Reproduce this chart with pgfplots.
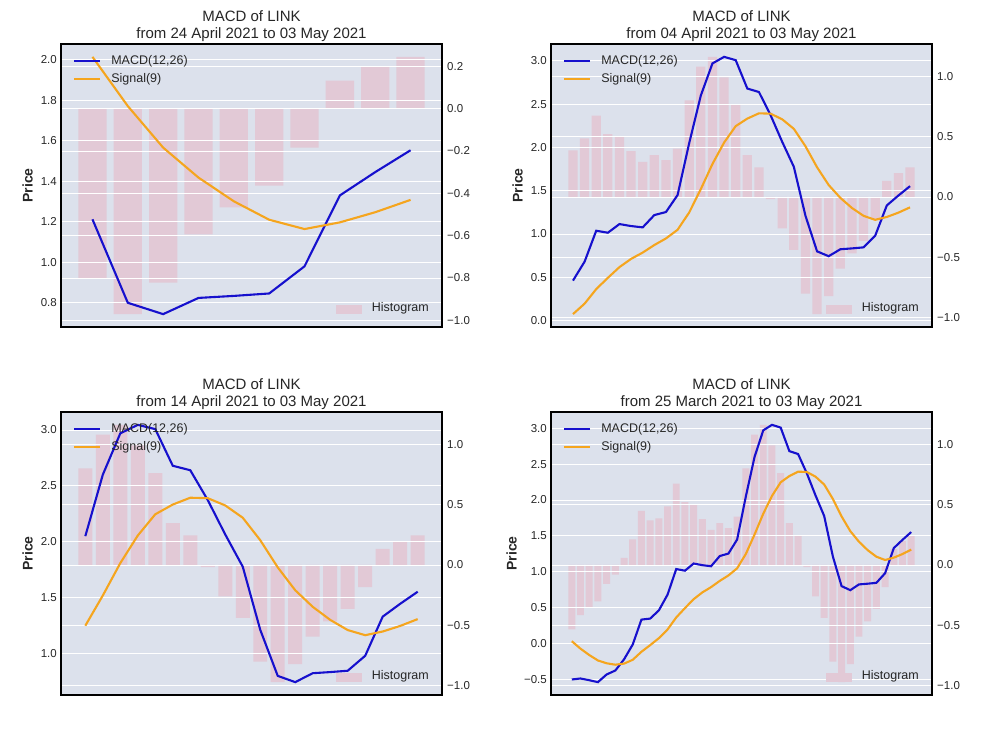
\documentclass[border=0pt]{standalone}
\usepackage{fontspec}
\setmainfont{Liberation Sans}
\usepackage{pgfplots}
\usepackage{pgfplotstable}
\pgfplotsset{compat=1.18}
\definecolor{bgcol}{RGB}{220,225,236}
\definecolor{barcol}{RGB}{226,201,214}
\definecolor{macdcol}{RGB}{22,16,205}
\definecolor{sigcol}{RGB}{245,165,30}
\definecolor{txtcol}{RGB}{38,38,38}

\pgfplotstableread{
i macd sig hist
0 -0.500 0.033 -0.533
1 -0.486 -0.071 -0.415
2 -0.510 -0.159 -0.351
3 -0.537 -0.235 -0.302
4 -0.430 -0.274 -0.156
5 -0.375 -0.294 -0.081
6 -0.220 -0.279 0.059
7 -0.013 -0.226 0.213
8 0.334 -0.114 0.448
9 0.348 -0.022 0.370
10 0.462 0.075 0.387
11 0.681 0.196 0.485
12 1.038 0.364 0.674
13 1.015 0.494 0.521
14 1.115 0.618 0.497
15 1.092 0.713 0.379
16 1.077 0.786 0.291
17 1.219 0.873 0.346
18 1.254 0.949 0.305
19 1.450 1.049 0.401
20 2.050 1.249 0.801
21 2.600 1.519 1.081
22 2.970 1.809 1.161
23 3.046 2.056 0.990
24 3.008 2.246 0.762
25 2.680 2.333 0.347
26 2.640 2.394 0.246
27 2.373 2.390 -0.017
28 2.065 2.325 -0.260
29 1.777 2.215 -0.438
30 1.212 2.014 -0.802
31 0.800 1.771 -0.971
32 0.744 1.566 -0.822
33 0.824 1.418 -0.594
34 0.834 1.301 -0.467
35 0.846 1.210 -0.364
36 0.980 1.164 -0.184
37 1.330 1.197 0.133
38 1.445 1.247 0.198
39 1.553 1.308 0.245
}\data

\pgfplotsset{
  base/.style={scale only axis, width=381pt, height=283pt, xtick=\empty,
    major tick length=0pt, axis line style={line width=1.5pt, black},
    ymajorgrids, major grid style={white, line width=0.9pt},
    tick label style={font=\fontsize{11.5}{13}\selectfont, text=txtcol},
    anchor=south west},
  histax/.style={base, axis background/.style={fill=bgcol},
    yticklabel pos=right, yticklabel style={anchor=west, inner sep=0pt, xshift=5pt},
    axis on top},
  histleg/.style={scale only axis, width=381pt, height=283pt, anchor=south west,
    hide axis, xmin=0, xmax=1, ymin=0, ymax=1,
    legend cell align=left,
    legend image code/.code={\fill[barcol] (0pt,-4pt) rectangle (25pt,4pt);},
    legend style={at={(1,0)}, anchor=south east, xshift=-13pt, yshift=12pt,
      draw=none, fill=none, inner sep=0pt, text=txtcol,
      nodes={inner sep=0pt, text height=9pt, text depth=3pt},
      /tikz/every odd column/.append style={column sep=10pt},
      font=\fontsize{12.5}{14}\selectfont}},
  lineax/.style={base, yticklabel pos=left, yticklabel style={anchor=east, inner sep=0pt, xshift=-4pt},
    ylabel={Price}, ylabel style={anchor=south, inner sep=0pt, text=txtcol, font=\bfseries\fontsize{14}{16}\selectfont},
    title style={align=center, text=txtcol, font=\fontsize{15}{17}\selectfont, at={(0.5,1)}, anchor=south, inner sep=0pt, yshift=-3.4pt},
    legend cell align=left,
    legend image code/.code={\draw[##1] (0pt,0pt) -- (26pt,0pt);},
    legend style={at={(0,1)}, anchor=north west, xshift=12pt, yshift=-11pt,
      draw=none, fill=none, inner sep=0pt, row sep=6pt, text=txtcol,
      nodes={inner sep=0pt, text height=9pt, text depth=3pt},
      /tikz/every odd column/.append style={column sep=10pt},
      font=\fontsize{12.5}{14}\selectfont}},
  barplot/.style={ybar, bar width=0.8, fill=barcol, draw=none},
  macdplot/.style={macdcol, line width=2.1pt},
  sigplot/.style={sigcol, line width=2.1pt},
}

\begin{document}
\begin{tikzpicture}
\useasboundingbox (0,0) rectangle (981pt,736pt);

% ---------- Panel 1 (top left)
\begin{axis}[histax, at={(61pt,409pt)}, xmin=-0.89, xmax=9.89,
  ymin=-1.0318, ymax=0.3058,
  ytick={-1.0,-0.8,-0.6,-0.4,-0.2,0.0,0.2},
  yticklabels={−1.0,−0.8,−0.6,−0.4,−0.2,0.0,0.2}]
\addplot[barplot] table[x expr=\thisrow{i}-30, y=hist, restrict x to domain=-0.5:9.5]{\data};
\end{axis}
\begin{axis}[lineax, at={(61pt,409pt)}, xmin=-0.89, xmax=9.89,
  ymin=0.6805, ymax=2.0775,
  ytick={0.8,1.0,1.2,1.4,1.6,1.8,2.0},
  yticklabels={0.8,1.0,1.2,1.4,1.6,1.8,2.0},
  ylabel style={at={(axis description cs:-0.0735,0.5)}},
  title={MACD of LINK\\from 24 April 2021 to 03 May 2021}]
\addplot[macdplot] table[x expr=\thisrow{i}-30, y=macd, restrict x to domain=-0.5:9.5]{\data};
\addlegendentry{MACD(12,26)}
\addplot[sigplot] table[x expr=\thisrow{i}-30, y=sig, restrict x to domain=-0.5:9.5]{\data};
\addlegendentry{Signal(9)}
\end{axis}
\begin{axis}[histleg, at={(61pt,409pt)}]
\addlegendimage{barcol}
\addlegendentry{Histogram}
\end{axis}

% ---------- Panel 2 (top right)
\begin{axis}[histax, at={(551pt,409pt)}, xmin=-1.89, xmax=30.89,
  ymin=-1.0776, ymax=1.2676,
  ytick={-1.0,-0.5,0.0,0.5,1.0},
  yticklabels={−1.0,−0.5,0.0,0.5,1.0}]
\addplot[barplot] table[x expr=\thisrow{i}-10, y=hist, restrict x to domain=-0.5:29.5]{\data};
\end{axis}
\begin{axis}[lineax, at={(551pt,409pt)}, xmin=-1.89, xmax=30.89,
  ymin=-0.0736, ymax=3.1946,
  ytick={0.0,0.5,1.0,1.5,2.0,2.5,3.0},
  yticklabels={0.0,0.5,1.0,1.5,2.0,2.5,3.0},
  ylabel style={at={(axis description cs:-0.0735,0.5)}},
  title={MACD of LINK\\from 04 April 2021 to 03 May 2021}]
\addplot[macdplot] table[x expr=\thisrow{i}-10, y=macd, restrict x to domain=-0.5:29.5]{\data};
\addlegendentry{MACD(12,26)}
\addplot[sigplot] table[x expr=\thisrow{i}-10, y=sig, restrict x to domain=-0.5:29.5]{\data};
\addlegendentry{Signal(9)}
\end{axis}
\begin{axis}[histleg, at={(551pt,409pt)}]
\addlegendimage{barcol}
\addlegendentry{Histogram}
\end{axis}

% ---------- Panel 3 (bottom left)
\begin{axis}[histax, at={(61pt,41pt)}, xmin=-1.39, xmax=20.39,
  ymin=-1.0776, ymax=1.2676,
  ytick={-1.0,-0.5,0.0,0.5,1.0},
  yticklabels={−1.0,−0.5,0.0,0.5,1.0}]
\addplot[barplot] table[x expr=\thisrow{i}-20, y=hist, restrict x to domain=-0.5:19.5]{\data};
\end{axis}
\begin{axis}[lineax, at={(61pt,41pt)}, xmin=-1.39, xmax=20.39,
  ymin=0.6289, ymax=3.1611,
  ytick={1.0,1.5,2.0,2.5,3.0},
  yticklabels={1.0,1.5,2.0,2.5,3.0},
  ylabel style={at={(axis description cs:-0.0735,0.5)}},
  title={MACD of LINK\\from 14 April 2021 to 03 May 2021}]
\addplot[macdplot] table[x expr=\thisrow{i}-20, y=macd, restrict x to domain=-0.5:19.5]{\data};
\addlegendentry{MACD(12,26)}
\addplot[sigplot] table[x expr=\thisrow{i}-20, y=sig, restrict x to domain=-0.5:19.5]{\data};
\addlegendentry{Signal(9)}
\end{axis}
\begin{axis}[histleg, at={(61pt,41pt)}]
\addlegendimage{barcol}
\addlegendentry{Histogram}
\end{axis}

% ---------- Panel 4 (bottom right)
\begin{axis}[histax, at={(551pt,41pt)}, xmin=-2.39, xmax=41.39,
  ymin=-1.0776, ymax=1.2676,
  ytick={-1.0,-0.5,0.0,0.5,1.0},
  yticklabels={−1.0,−0.5,0.0,0.5,1.0}]
\addplot[barplot] table[x=i, y=hist]{\data};
\end{axis}
\begin{axis}[lineax, at={(551pt,41pt)}, xmin=-2.39, xmax=41.39,
  ymin=-0.716, ymax=3.225,
  ytick={-0.5,0.0,0.5,1.0,1.5,2.0,2.5,3.0},
  yticklabels={−0.5,0.0,0.5,1.0,1.5,2.0,2.5,3.0},
  ylabel style={at={(axis description cs:-0.0892,0.5)}},
  title={MACD of LINK\\from 25 March 2021 to 03 May 2021}]
\addplot[macdplot] table[x=i, y=macd]{\data};
\addlegendentry{MACD(12,26)}
\addplot[sigplot] table[x=i, y=sig]{\data};
\addlegendentry{Signal(9)}
\end{axis}
\begin{axis}[histleg, at={(551pt,41pt)}]
\addlegendimage{barcol}
\addlegendentry{Histogram}
\end{axis}
\end{tikzpicture}
\end{document}
